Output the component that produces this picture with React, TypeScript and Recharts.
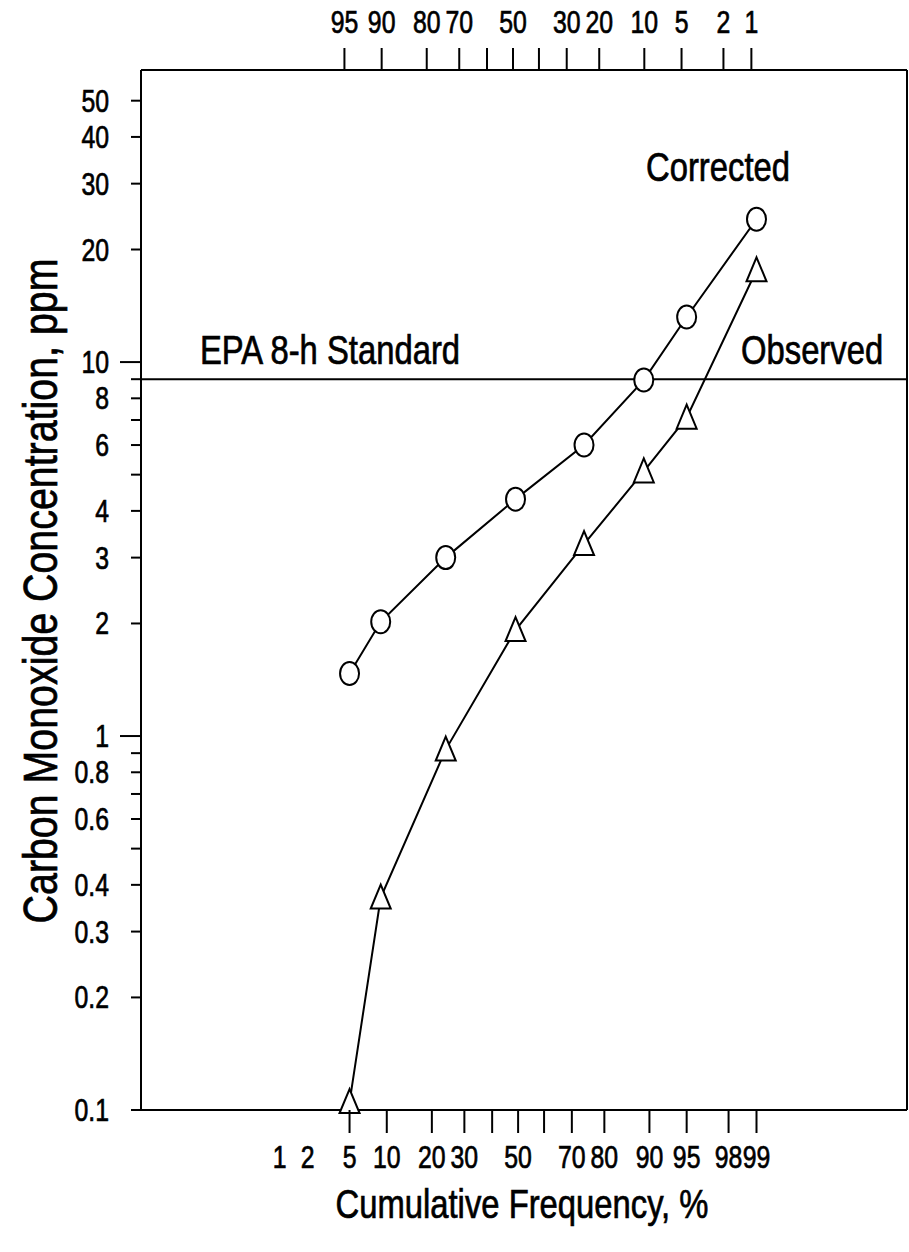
import React from 'react';
import { ComposedChart, Line, XAxis, YAxis, ReferenceLine } from 'recharts';

// cumulative frequency (%) of each plotted point
const percentiles = [5, 9, 24, 49, 74, 89, 95, 99];
// CO concentration, ppm
const corrected = [1.47, 2.02, 3.0, 4.3, 6.0, 8.95, 13.2, 24.1];
const observed = [0.105, 0.37, 0.92, 1.92, 3.26, 5.1, 7.1, 17.6];
const epaStandard = 9;

const bottomTickPcts = [1, 2, 5, 10, 20, 30, 40, 50, 60, 70, 80, 90, 95, 98, 99];
const bottomTickLabels = ['1', '2', '5', '10', '20', '30', '', '50', '', '70', '80', '90', '95', '98', '99'];
const bottomTickMarks = [false, false, true, true, true, true, true, true, true, true, true, true, true, true, true];

const topTickPcts = [5, 10, 20, 30, 40, 50, 60, 70, 80, 90, 95, 98, 99];
const topTickLabels = ['95', '90', '80', '70', '', '50', '', '30', '20', '10', '5', '2', '1'];

const yTicks = [0.1, 0.2, 0.3, 0.4, 0.5, 0.6, 0.7, 0.8, 0.9, 1, 2, 3, 4, 5, 6, 7, 8, 9, 10, 20, 30, 40, 50];
const yTickLabels = ['0.1', '0.2', '0.3', '0.4', '', '0.6', '', '0.8', '', '1', '2', '3', '4', '', '6', '', '8', '', '10', '20', '30', '40', '50'];
const yMajor = [1, 10];

// the scan uses a narrow Helvetica; no narrow face is installed, so squeeze it
const FONT = '"Liberation Sans", Arial, sans-serif';
const SQUEEZE = 0.82;
const TICK_FS = 31;
const TICK_SQUEEZE = 0.8;

// inverse of the standard normal CDF (Acklam), for the probability axis
function probit(p: number): number {
  const a = [-39.69683028665376, 220.9460984245205, -275.9285104469687, 138.357751867269, -30.66479806614716, 2.506628277459239];
  const b = [-54.47609879822406, 161.5858368580409, -155.6989798598866, 66.80131188771972, -13.28068155288572];
  const c = [-0.007784894002430293, -0.3223964580411365, -2.400758277161838, -2.549732539343734, 4.374664141464968, 2.938163982698783];
  const d = [0.007784695709041462, 0.3224671290700398, 2.445134137142996, 3.754408661907416];
  const lo = 0.02425;
  if (p < lo) {
    const q = Math.sqrt(-2 * Math.log(p));
    return (((((c[0] * q + c[1]) * q + c[2]) * q + c[3]) * q + c[4]) * q + c[5]) / ((((d[0] * q + d[1]) * q + d[2]) * q + d[3]) * q + 1);
  }
  if (p > 1 - lo) {
    const q = Math.sqrt(-2 * Math.log(1 - p));
    return -(((((c[0] * q + c[1]) * q + c[2]) * q + c[3]) * q + c[4]) * q + c[5]) / ((((d[0] * q + d[1]) * q + d[2]) * q + d[3]) * q + 1);
  }
  const q = p - 0.5;
  const r = q * q;
  return ((((((a[0] * r + a[1]) * r + a[2]) * r + a[3]) * r + a[4]) * r + a[5]) * q) / (((((b[0] * r + b[1]) * r + b[2]) * r + b[3]) * r + b[4]) * r + 1);
}

const data = percentiles.map((p, i) => ({
  z: probit(p / 100),
  corrected: corrected[i],
  observed: observed[i],
}));

const bottomTicks = bottomTickPcts.map(p => probit(p / 100));
const topTicks = topTickPcts.map(p => probit(p / 100));

const X_DOMAIN = [-3.68, 3.795];
// top scale sits a few px left of the bottom one in the original print
const TOP_X_DOMAIN = [-3.63, 3.845];
const Y_DOMAIN = [0.1, 60.4];

const Narrow = ({ x, y, size, squeeze = SQUEEZE, anchor = 'start', rotate = 0, children }: any) => (
  <text
    transform={`translate(${x},${y}) rotate(${rotate}) scale(${squeeze},1)`}
    textAnchor={anchor}
    fontFamily={FONT}
    fontSize={size}
    fill="#000"
    stroke="#000"
    strokeWidth={0.7}
  >
    {children}
  </text>
);

const BottomTick = (props: any) => {
  const { x, y, index } = props;
  return (
    <g>
      {bottomTickMarks[index] && <line x1={x} x2={x} y1={y} y2={y + 23} stroke="#000" strokeWidth={2} />}
      <Narrow x={x} y={y + 58} size={TICK_FS} squeeze={TICK_SQUEEZE} anchor="middle">
        {bottomTickLabels[index]}
      </Narrow>
    </g>
  );
};

const TopTick = (props: any) => {
  const { x, y, index } = props;
  return (
    <g>
      <line x1={x} x2={x} y1={y} y2={y - 22} stroke="#000" strokeWidth={2} />
      <Narrow x={x} y={y - 37} size={TICK_FS} squeeze={TICK_SQUEEZE} anchor="middle">
        {topTickLabels[index]}
      </Narrow>
    </g>
  );
};

const LeftTick = (props: any) => {
  const { x, y, payload, index } = props;
  const len = yMajor.includes(payload.value) ? 21 : 10;
  return (
    <g>
      <line x1={x - len} x2={x} y1={y} y2={y} stroke="#000" strokeWidth={2} />
      <Narrow x={x - 32} y={y + 11} size={TICK_FS} squeeze={TICK_SQUEEZE} anchor="end">
        {yTickLabels[index]}
      </Narrow>
    </g>
  );
};

const RightTick = (props: any) => {
  const { x, y } = props;
  return <line x1={x} x2={x + 10} y1={y} y2={y} stroke="#000" strokeWidth={2} />;
};

const CircleDot = (props: any) => {
  const { cx, cy } = props;
  if (cx == null || cy == null) return null;
  return <ellipse key={`c${cx}`} cx={cx} cy={cy} rx={9.5} ry={11.5} fill="#fff" stroke="#000" strokeWidth={2} />;
};

const TriangleDot = (props: any) => {
  const { cx, cy } = props;
  if (cx == null || cy == null) return null;
  const pts = `${cx},${cy - 13} ${cx - 10},${cy + 11} ${cx + 10},${cy + 11}`;
  return <polygon key={`t${cx}`} points={pts} fill="#fff" stroke="#000" strokeWidth={2} strokeLinejoin="miter" />;
};

export default function App() {
  return (
    <div style={{ position: 'absolute', left: 0, top: 0, width: 909, height: 1252, background: '#fff' }}>
      <ComposedChart width={909} height={1252} data={data} margin={{ top: 0, right: 0, bottom: 0, left: 0 }}>
        <XAxis
          xAxisId="bottom"
          dataKey="z"
          type="number"
          domain={X_DOMAIN}
          ticks={bottomTicks}
          interval={0}
          height={142}
          tickSize={0}
          tickMargin={0}
          tickLine={false}
          tick={BottomTick}
          axisLine={{ stroke: '#000', strokeWidth: 2 }}
        />
        <XAxis
          xAxisId="top"
          orientation="top"
          dataKey="z"
          type="number"
          domain={TOP_X_DOMAIN}
          allowDataOverflow
          ticks={topTicks}
          interval={0}
          height={70}
          tickSize={0}
          tickMargin={0}
          tickLine={false}
          tick={TopTick}
          axisLine={{ stroke: '#000', strokeWidth: 2 }}
        />
        <YAxis
          yAxisId="left"
          scale="log"
          type="number"
          domain={Y_DOMAIN}
          ticks={yTicks}
          interval={0}
          width={141}
          tickSize={0}
          tickMargin={0}
          tickLine={false}
          tick={LeftTick}
          axisLine={{ stroke: '#000', strokeWidth: 2 }}
        />
        <YAxis
          yAxisId="right"
          orientation="right"
          scale="log"
          type="number"
          domain={Y_DOMAIN}
          ticks={yTicks}
          interval={0}
          width={2}
          tickSize={0}
          tickMargin={0}
          tickLine={false}
          tick={RightTick}
          axisLine={{ stroke: '#000', strokeWidth: 2 }}
        />
        <ReferenceLine xAxisId="bottom" yAxisId="left" y={epaStandard} stroke="#000" strokeWidth={2} />
        <Line
          xAxisId="bottom"
          yAxisId="left"
          type="linear"
          dataKey="corrected"
          stroke="#000"
          strokeWidth={2}
          dot={CircleDot}
          activeDot={false}
          isAnimationActive={false}
        />
        <Line
          xAxisId="bottom"
          yAxisId="left"
          type="linear"
          dataKey="observed"
          stroke="#000"
          strokeWidth={2}
          dot={TriangleDot}
          activeDot={false}
          isAnimationActive={false}
        />
      </ComposedChart>
      <svg width={909} height={1252} style={{ position: 'absolute', left: 0, top: 0, pointerEvents: 'none' }}>
        <Narrow x={200} y={364} size={40}>EPA 8-h Standard</Narrow>
        <Narrow x={646} y={181} size={40}>Corrected</Narrow>
        <Narrow x={741} y={364} size={40}>Observed</Narrow>
        <Narrow x={522} y={1218} size={40} anchor="middle">Cumulative Frequency, %</Narrow>
        <Narrow x={57} y={591} size={48} rotate={-90} anchor="middle">
          Carbon Monoxide Concentration, ppm
        </Narrow>
      </svg>
    </div>
  );
}
